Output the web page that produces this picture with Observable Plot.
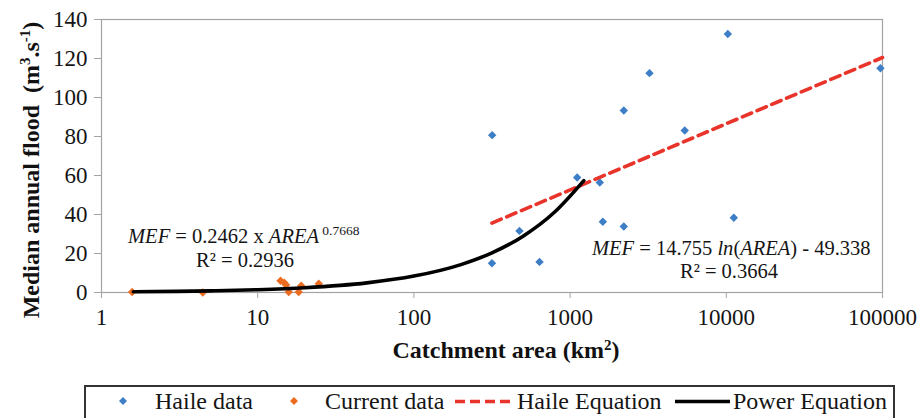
<!DOCTYPE html>
<html>
<head>
<meta charset="utf-8">
<script src="https://cdn.jsdelivr.net/npm/d3@7"></script>
<script src="https://cdn.jsdelivr.net/npm/@observablehq/plot@0.6"></script>
<style>
  html, body { margin: 0; padding: 0; background: #fff; }
  #wrap { position: relative; width: 920px; height: 418px; overflow: hidden; }
  #legend { position: absolute; left: 0; top: 385px; }
  svg, svg text { font-family: 'Liberation Serif', 'Tinos', 'Times New Roman', 'Times', 'Nimbus Roman', 'Nimbus Roman No9 L', 'FreeSerif', 'Noto Serif', 'DejaVu Serif', 'Georgia', serif !important; }
</style>
</head>
<body>
<div id="wrap"><div id="chart"></div><div id="legend"></div></div>
<script>
// ---- data ----
const haileArea = [317, 316, 474, 637, 1110, 1549, 1620, 2207, 2207, 3223, 5420, 10230, 11170, 97000];
const haileFlow = [80.7, 15.0, 31.6, 15.7, 59.0, 56.4, 36.3, 93.3, 33.8, 112.5, 83.1, 132.6, 38.3, 115.0];

const currentArea = [1.57, 4.45, 14.0, 14.8, 15.2, 15.8, 18.3, 19.0, 24.6];
const currentFlow = [0.3, 0.0, 6.0, 5.0, 3.8, 0.3, 0.2, 3.5, 4.5];

// trend lines as drawn in the reference
const powerArea = [1.6, 3, 5, 10, 20, 50, 100, 200, 316, 500, 800, 1224];
const powerFlow = [0.35, 0.57, 0.85, 1.44, 2.45, 4.94, 8.41, 14.31, 20.33, 28.90, 41.43, 57.4];
const haileEqArea = [316, 100000];
const haileEqFlow = [35.6, 120.5];

const xTicks = [1, 10, 100, 1000, 10000, 100000];
const yTicks = [0, 20, 40, 60, 80, 100, 120, 140];

const seriesNames = ["Haile data", "Current data", "Haile Equation", "Power Equation"];
const seriesColors = ["#3d7ec6", "#ec6c22", "#e8342b", "#000000"];

// annotation text (positions in data units)
const annLeft = { area: 1.49, flow: 25.1, r2area: 8.36, r2flow: 12.8, coef: "0.2462", exp: "0.7668", r2: "0.2936" };
const annRight = { area: 1391, flow: 19.0, r2area: 10480, r2flow: 7.2, a: "14.755", b: "49.338", r2: "0.3664" };

// ---- build tables ----
const haile = haileArea.map((a, i) => ({ area: a, flow: haileFlow[i] }));
const current = currentArea.map((a, i) => ({ area: a, flow: currentFlow[i] }));
const power = powerArea.map((a, i) => ({ area: a, flow: powerFlow[i] }));
const haileEq = haileEqArea.map((a, i) => ({ area: a, flow: haileEqFlow[i] }));

const FONT = "'Liberation Serif', 'Tinos', 'Times New Roman', serif";
const GRAY = "#a3a3a3";

const plot = Plot.plot({
  width: 920,
  height: 385,
  marginLeft: 101,
  marginRight: 38,
  marginTop: 19,
  marginBottom: 93,
  style: { fontFamily: FONT, fontSize: "23px", background: "transparent", color: "#151515" },
  x: { type: "log", domain: [1, 100000] },
  y: { domain: [0, 140] },
  marks: [
    Plot.frame({ stroke: GRAY, strokeWidth: 1.2 }),
    Plot.axisX({ ticks: xTicks, tickFormat: d => String(d), label: null, tickSize: 6, tickPadding: 10, stroke: GRAY, fill: "#151515" }),
    Plot.axisY({ ticks: yTicks, label: null, tickSize: 7, tickPadding: 7, stroke: GRAY, fill: "#151515" }),
    Plot.dot(haile, { x: "area", y: "flow", symbol: "diamond2", r: 3.8, fill: seriesColors[0] }),
    Plot.dot(current, { x: "area", y: "flow", symbol: "diamond2", r: 3.8, fill: seriesColors[1] }),
    Plot.line(haileEq, { x: "area", y: "flow", stroke: seriesColors[2], strokeWidth: 3.6, strokeDasharray: "10,6" }),
    Plot.line(power, { x: "area", y: "flow", stroke: seriesColors[3], strokeWidth: 3.6, curve: "monotone-x" })
  ]
});
document.getElementById("chart").appendChild(plot);

const sx = plot.scale("x"), sy = plot.scale("y");
const svg = d3.select(plot);

// axis titles
const xt = svg.append("text")
  .attr("x", 506).attr("y", 358)
  .attr("text-anchor", "middle")
  .style("font-size", "24px").style("font-weight", "bold").attr("fill", "#111");
xt.append("tspan").text("Catchment area (km");
xt.append("tspan").attr("dy", -8).style("font-size", "15px").text("2");
xt.append("tspan").attr("dy", 8).text(")");

const yt = svg.append("text")
  .attr("transform", "translate(39,170) rotate(-90)")
  .attr("text-anchor", "middle")
  .style("font-size", "24px").style("font-weight", "bold").attr("fill", "#111");
yt.append("tspan").text("Median annual flood  (m");
yt.append("tspan").attr("dy", -9).style("font-size", "15px").text("3");
yt.append("tspan").attr("dy", 9).text(".s");
yt.append("tspan").attr("dy", -9).style("font-size", "15px").text("-1");
yt.append("tspan").attr("dy", 9).text(")");

// equation annotations
function annText(x, y, anchor) {
  return svg.append("text").attr("x", x).attr("y", y).attr("text-anchor", anchor)
    .style("font-size", "20.5px").attr("fill", "#151515");
}
const t1 = annText(sx.apply(annLeft.area), sy.apply(annLeft.flow), "start");
t1.append("tspan").style("font-style", "italic").text("MEF");
t1.append("tspan").text(" = " + annLeft.coef + " x ");
t1.append("tspan").style("font-style", "italic").text("AREA");
t1.append("tspan").attr("dy", -8).style("font-size", "13.5px").text(" " + annLeft.exp);
annText(sx.apply(annLeft.r2area), sy.apply(annLeft.r2flow), "middle").text("R² = " + annLeft.r2);

const t2 = annText(sx.apply(annRight.area), sy.apply(annRight.flow), "start");
t2.append("tspan").style("font-style", "italic").text("MEF");
t2.append("tspan").text(" = " + annRight.a + " ");
t2.append("tspan").style("font-style", "italic").text("ln");
t2.append("tspan").text("(");
t2.append("tspan").style("font-style", "italic").text("AREA");
t2.append("tspan").text(") - " + annRight.b);
annText(sx.apply(annRight.r2area), sy.apply(annRight.r2flow), "middle").text("R² = " + annRight.r2);

// legend below the plot
const lg = d3.select("#legend").append("svg").attr("width", 920).attr("height", 33)
  .style("font-size", "24px");
lg.append("rect").attr("x", 85).attr("y", 1).attr("width", 809).attr("height", 60)
  .attr("fill", "none").attr("stroke", "#333").attr("stroke-width", 2);
const diamond = d3.symbol(d3.symbolDiamond2, 40);
const textX = [155, 325, 517, 733];
lg.append("path").attr("d", diamond()).attr("transform", "translate(123,16)").attr("fill", seriesColors[0]);
lg.append("path").attr("d", diamond()).attr("transform", "translate(294,16)").attr("fill", seriesColors[1]);
lg.append("line").attr("x1", 455).attr("x2", 512).attr("y1", 16.5).attr("y2", 16.5)
  .attr("stroke", seriesColors[2]).attr("stroke-width", 3.6).attr("stroke-dasharray", "10,5");
lg.append("line").attr("x1", 675).attr("x2", 730).attr("y1", 16.5).attr("y2", 16.5)
  .attr("stroke", seriesColors[3]).attr("stroke-width", 3.6);
seriesNames.forEach((n, i) => {
  lg.append("text").attr("x", textX[i]).attr("y", 23.5).attr("fill", "#151515").text(n);
});
</script>
</body>
</html>
